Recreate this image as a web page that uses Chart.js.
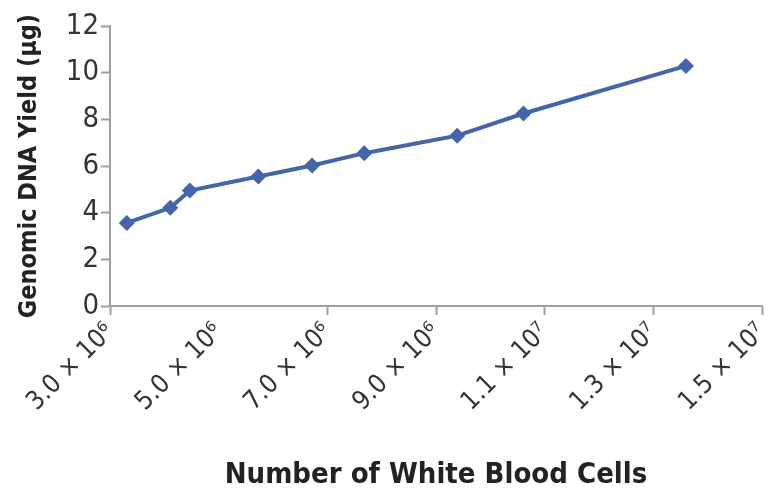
<!DOCTYPE html>
<html>
<head>
<meta charset="utf-8">
<script src="https://cdn.jsdelivr.net/npm/chart.js@4.4.0/dist/chart.umd.min.js"></script>
<style>
  html, body { margin: 0; padding: 0; background: #fff; }
  #wrap { width: 775px; height: 493px; }
</style>
</head>
<body>
<div id="wrap"><canvas id="chart"></canvas></div>
<script>
// white blood cell count vs genomic DNA yield
const cells = [3.31e6, 4.11e6, 4.47e6, 5.73e6, 6.72e6, 7.68e6, 9.39e6, 1.061e7, 1.36e7];
const yieldUg = [3.56, 4.21, 4.95, 5.55, 6.02, 6.55, 7.30, 8.25, 10.29];

const xTickValues = [3e6, 5e6, 7e6, 9e6, 1.1e7, 1.3e7, 1.5e7];
const xTickLabels = ['3.0 × 10⁶', '5.0 × 10⁶', '7.0 × 10⁶', '9.0 × 10⁶', '1.1 × 10⁷', '1.3 × 10⁷', '1.5 × 10⁷'];

const narrow = "'Liberation Sans Narrow', 'DejaVu Sans Condensed', 'Roboto', sans-serif";
const axisGrey = '#a0a0a0';
const blue = '#4365aa';

const ctx = document.getElementById('chart');

const chart = new Chart(ctx, {
  type: 'scatter',
  data: {
    datasets: [{
      data: cells.map((c, i) => ({x: c, y: yieldUg[i]})),
      showLine: true,
      borderColor: blue,
      backgroundColor: blue,
      borderWidth: 4,
      pointStyle: 'rectRot',
      pointRadius: 8,
      pointHoverRadius: 8,
      pointBorderWidth: 0,
      tension: 0
    }]
  },
  options: {
    responsive: true,
    maintainAspectRatio: false,
    animation: false,
    layout: { padding: { top: 26, right: 13, left: 0, bottom: 0 } },
    plugins: {
      legend: { display: false },
      tooltip: { enabled: false }
    },
    scales: {
      x: {
        type: 'linear',
        min: 3e6,
        max: 1.5e7,
        afterBuildTicks: (scale) => {
          scale.ticks = xTickValues.map(v => ({value: v}));
        },
        afterFit: (scale) => {
          scale.height = 187;
          scale.paddingRight = 0;
        },
        border: { display: true, color: axisGrey, width: 2 },
        grid: {
          drawOnChartArea: false,
          drawTicks: true,
          tickLength: 9,
          tickWidth: 2,
          tickColor: (c) => c.index === 1 ? 'rgba(0,0,0,0)' : axisGrey
        },
        ticks: {
          minRotation: 45,
          maxRotation: 45,
          padding: 2,
          color: '#333',
          font: { family: narrow, size: 26 },
          callback: (v, i) => xTickLabels[i]
        },
        title: {
          display: true,
          text: 'Number of White Blood Cells',
          color: '#222',
          font: { family: narrow, size: 29, weight: 'bold' },
          padding: { top: 0, bottom: 0 }
        }
      },
      y: {
        min: 0,
        max: 12,
        afterFit: (scale) => { scale.width = 110; },
        border: { display: true, color: axisGrey, width: 2 },
        grid: {
          drawOnChartArea: false,
          drawTicks: true,
          tickLength: 9,
          tickWidth: 2,
          tickColor: axisGrey
        },
        ticks: {
          stepSize: 2,
          padding: 2,
          color: '#333',
          font: { family: narrow, size: 29 }
        },
        title: {
          display: true,
          text: 'Genomic DNA Yield (µg)',
          color: '#222',
          font: { family: narrow, size: 25, weight: 'bold' },
          padding: { top: 14, bottom: 4 }
        }
      }
    }
  }
});
</script>
</body>
</html>
